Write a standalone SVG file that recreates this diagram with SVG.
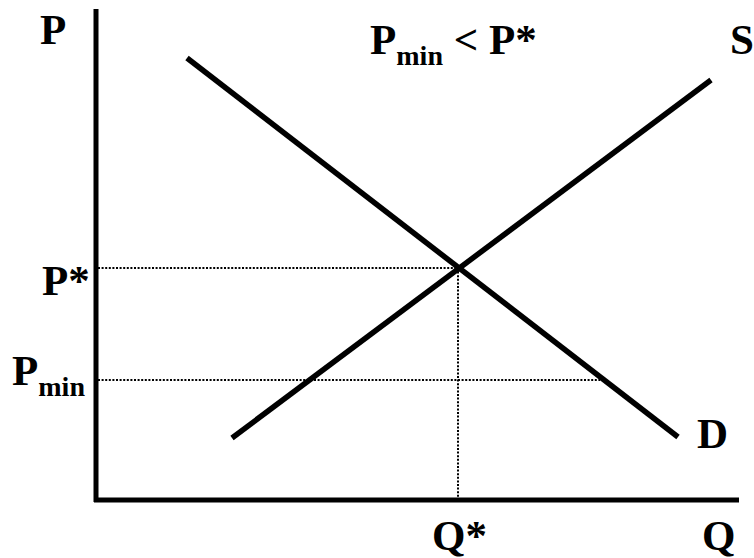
<svg xmlns="http://www.w3.org/2000/svg" width="754" height="558" viewBox="0 0 754 558">
<style>
.t{font-family:"Liberation Serif","Times New Roman",serif;font-weight:bold;font-size:43px;fill:#000}
.sub{font-size:28px}
.ax{stroke:#000;stroke-width:5;fill:none}
.cv{stroke:#000;stroke-width:5.5;fill:none}
.dot{stroke:#000;stroke-width:2;stroke-dasharray:2 1.6;fill:none}
</style>
<rect width="754" height="558" fill="#fff"/>
<g id="connectors">
<line class="dot" x1="98" y1="268" x2="458" y2="268"/>
<line class="dot" x1="98" y1="380" x2="600" y2="380"/>
<line class="dot" x1="458" y1="268" x2="458" y2="498"/>
<line class="ax" x1="96" y1="9" x2="96" y2="502"/>
<line class="ax" x1="94" y1="500" x2="739" y2="500"/>
</g>
<g id="demand"><line class="cv" x1="187" y1="58" x2="678" y2="437"/></g>
<g id="supply"><line class="cv" x1="232" y1="438" x2="711" y2="80"/></g>
<g id="labels">
<text class="t" x="40" y="44">P</text>
<text class="t" x="370" y="54">P<tspan class="sub" dy="11">min</tspan><tspan dy="-11"> &lt; P*</tspan></text>
<text class="t" x="730" y="54">S</text>
<text class="t" x="42" y="295">P*</text>
<text class="t" x="12" y="385">P<tspan class="sub" dy="11">min</tspan></text>
<text class="t" x="697" y="448">D</text>
<text class="t" x="432" y="550">Q*</text>
<text class="t" x="702" y="550">Q</text>
</g>
</svg>
